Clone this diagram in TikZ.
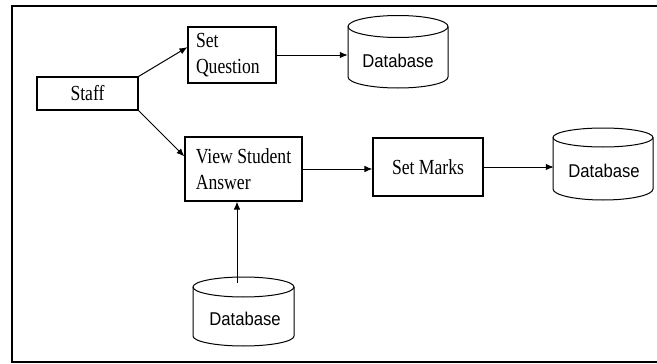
\documentclass[tikz,border=0pt]{standalone}
\usepackage{fontspec}
\usetikzlibrary{arrows.meta}
\newfontfamily\boxfont[FakeStretch=0.82]{Liberation Serif}
\newfontfamily\dbfont[FakeStretch=0.9]{Liberation Sans}
\begin{document}
\begin{tikzpicture}[x=1pt,y=1pt,
  frame/.style={line width=2pt},
  procbox/.style={draw, line width=1.1pt, inner sep=0pt, font={\boxfont\fontsize{21.5pt}{26pt}\selectfont}},
  dbtext/.style={inner sep=0pt, minimum height=20pt, font={\dbfont\fontsize{18.5pt}{22pt}\selectfont}},
  dbline/.style={line width=1pt},
  arr/.style={line width=1pt, -{Latex[length=8pt,width=6.5pt]}}]
\useasboundingbox (0,0) rectangle (657,-364);
% frame
\draw[frame] (657,-6) -- (12,-6) -- (12,-362) -- (657,-362);
% process boxes
\node[procbox, minimum width=101pt, minimum height=33pt] (staff) at (87.5,-93.5) {Staff};
\node[procbox, minimum width=88pt, minimum height=56pt, text width=72pt, inner xsep=8pt, align=left] (sq) at (232,-55) {Set\\Question};
\node[procbox, minimum width=117pt, minimum height=64pt, align=left] (vsa) at (243.5,-169) {\mbox{View Student}\\Answer};
\node[procbox, minimum width=110pt, minimum height=58pt] (marks) at (428,-167) {Set Marks};
% database 1
\draw[dbline] (398,-26.5) ellipse [x radius=50, y radius=11];
\draw[dbline] (348,-26.5) -- (348,-77) arc[start angle=180, end angle=360, x radius=50, y radius=11] -- (448,-26.5);
\node[dbtext, minimum width=100pt] (db1) at (398,-60.5) {Database};
% database 2
\draw[dbline] (603,-137.5) ellipse [x radius=50, y radius=9.5];
\draw[dbline] (553,-137.5) -- (553,-189) arc[start angle=180, end angle=360, x radius=50, y radius=11] -- (653,-137.5);
\node[dbtext, minimum width=100pt] (db2) at (604,-170.5) {Database};
% database 3
\draw[dbline] (243.5,-287) ellipse [x radius=50.5, y radius=10];
\draw[dbline] (193,-287) -- (193,-336) arc[start angle=180, end angle=360, x radius=50.5, y radius=10] -- (294,-287);
\node[dbtext, minimum width=101pt] (db3) at (245,-318.5) {Database};
\coordinate (db3top) at (237,-283);
% connectors
\draw[arr] (staff.north east) -- (sq.170);
\draw[arr] (staff.south east) -- (vsa.168);
\draw[arr] (sq.east) -- (sq.east -| db1.west);
\draw[arr] (vsa.east) -- (vsa.east -| marks.west);
\draw[arr] (marks.east) -- (marks.east -| db2.west);
\draw[arr] (db3top) -- (db3top |- vsa.south);
\end{tikzpicture}
\end{document}
